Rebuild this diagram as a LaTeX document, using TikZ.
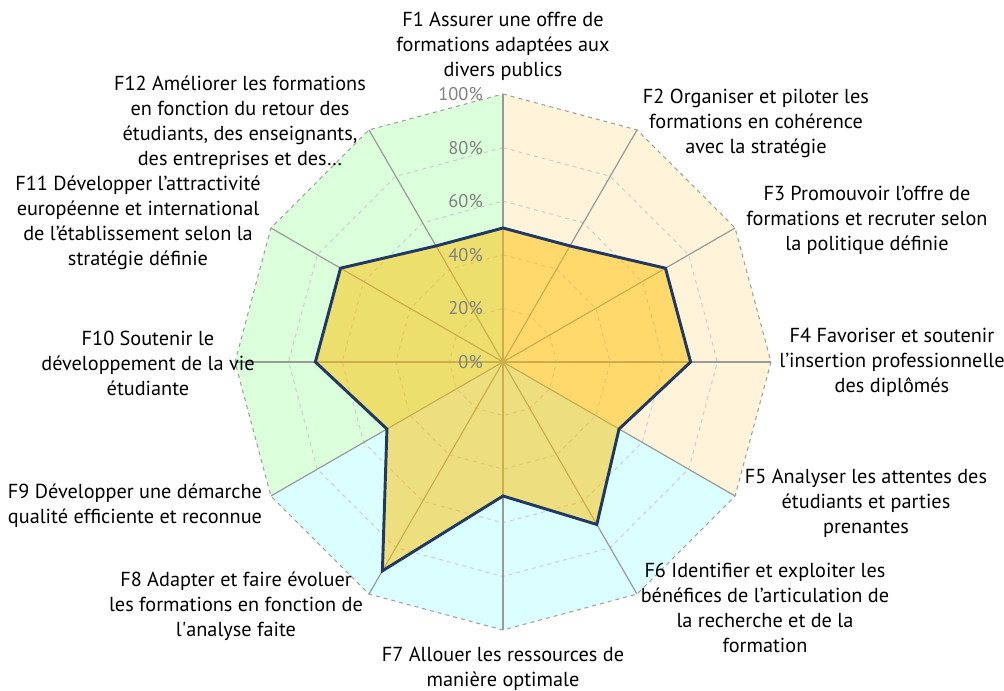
\documentclass[tikz,border=0pt]{standalone}
\usepackage{fontspec}
\setmainfont{PT Sans}
\newfontfamily\qfont{PT Sans}
\definecolor{bgO}{HTML}{FFF3D9}
\definecolor{bgC}{HTML}{DBFFFF}
\definecolor{bgG}{HTML}{DBFFDB}
\definecolor{gold}{HTML}{FFC000}
\definecolor{navy}{HTML}{1F3864}
\definecolor{axisgray}{HTML}{9A9A9A}
\definecolor{ringgray}{HTML}{CFCFCF}
\definecolor{outergray}{HTML}{A0A0A0}
\definecolor{pctgray}{HTML}{808080}
\tikzset{
  ring/.style={draw=ringgray, dashed, line width=0.8pt},
  outer/.style={draw=outergray, dashed, line width=0.8pt},
  axisline/.style={draw=axisgray, line width=0.9pt},
  datafill/.style={fill=gold, fill opacity=0.5},
  dataline/.style={draw=navy, line width=2.2pt, line join=miter},
  pct/.style={text=pctgray, anchor=east, inner sep=0pt, font=\fontsize{13.8pt}{16pt}\selectfont},
  lbl/.style={align=center, inner sep=0pt, font=\fontsize{15.2pt}{18.75pt}\selectfont}
}
\begin{document}
\begin{tikzpicture}[x=0.75pt,y=0.75pt]
\useasboundingbox (-503,-329) rectangle (501,362);
\def\R{268}
% background sectors
\fill[bgO] (0,0) -- (90:\R) -- (60:\R) -- (30:\R) -- (0:\R) -- (-30:\R) -- cycle;
\fill[bgC] (0,0) -- (-30:\R) -- (-60:\R) -- (-90:\R) -- (-120:\R) -- (-150:\R) -- cycle;
\fill[bgG] (0,0) -- (-150:\R) -- (180:\R) -- (150:\R) -- (120:\R) -- (90:\R) -- cycle;
% grid rings
\foreach \f in {0.2,0.4,0.6,0.8} {
  \pgfmathsetmacro\rr{\f*\R}
  \draw[ring] (90:\rr) \foreach \a in {60,30,...,-240} { -- (\a:\rr) } -- cycle;
}
\draw[outer] (90:\R) \foreach \a in {60,30,...,-240} { -- (\a:\R) } -- cycle;
% axes
\coordinate (c) at (0,0);
\foreach \a [count=\i] in {90,60,...,-240} {
  \coordinate (e\i) at (\a:\R);
  \draw[axisline] (c) -- (e\i);
}
% data
\foreach \a/\v [count=\i] in {90/0.5,60/0.5,30/0.7,0/0.7,-30/0.5,-60/0.7,-90/0.5,-120/0.9,-150/0.5,-180/0.7,-210/0.7,-240/0.5} {
  \pgfmathsetmacro\rr{\v*\R}
  \coordinate (p\i) at (\a:\rr);
}
\fill[datafill] (p1) -- (p2) -- (p3) -- (p4) -- (p5) -- (p6) -- (p7) -- (p8) -- (p9) -- (p10) -- (p11) -- (p12) -- cycle;
\draw[dataline] (p1) -- (p2) -- (p3) -- (p4) -- (p5) -- (p6) -- (p7) -- (p8) -- (p9) -- (p10) -- (p11) -- (p12) -- cycle;
% percent labels
\foreach \k in {0,...,5} {
  \pgfmathsetmacro\yy{\k*0.2*\R}
  \pgfmathtruncatemacro\pp{\k*20}
  \node[pct] (pct\k) at (-20,\yy) {\pp\%};
}
% axis labels
\node[lbl] (l1) at (0,316) {F1 Assurer une offre de\\formations adaptées aux\\divers publics};
\node[lbl] (l2) at (253,239) {F2 Organiser et piloter les\\formations en cohérence\\avec la stratégie};
\node[lbl] (l3) at (364,142) {F3 Promouvoir l’offre de\\formations et recruter selon\\la politique définie};
\node[lbl] (l4) at (389,0) {F4 Favoriser et soutenir\\l’insertion professionnelle\\des diplômés};
\node[lbl] (l5) at (363,-141) {F5 Analyser les attentes des\\étudiants et parties\\prenantes};
\node[lbl] (l6) at (262,-246) {F6 Identifier et exploiter les\\bénéfices de l’articulation de\\la recherche et de la\\formation};
\node[lbl] (l7) at (0,-307) {F7 Allouer les ressources de\\manière optimale};
\node[lbl] (l8) at (-267,-244) {F8 Adapter et faire évoluer\\les formations en fonction de\\l{\qfont'}analyse faite};
\node[lbl] (l9) at (-368,-144) {F9 Développer une démarche\\qualité efficiente et reconnue};
\node[lbl] (l10) at (-355,-1) {F10 Soutenir le\\développement de la vie\\étudiante};
\node[lbl] (l11) at (-365,139) {F11 Développer l’attractivité\\européenne et international\\de l’établissement selon la\\stratégie définie};
\node[lbl] (l12) at (-263,239) {F12 Améliorer les formations\\en fonction du retour des\\étudiants, des enseignants,\\des entreprises et des…};
\end{tikzpicture}
\end{document}
